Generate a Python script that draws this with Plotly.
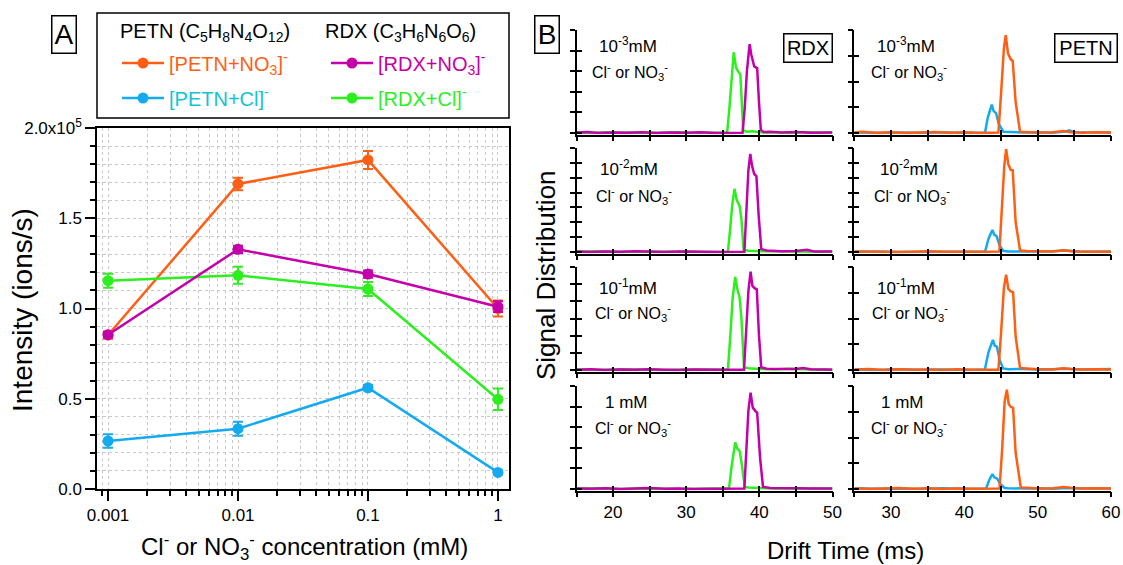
import plotly.graph_objects as go

W, H = 1123, 565
def fx(px): return px / W
def fy(py): return 1 - py / H

FONT = "Liberation Sans, Arial, Helvetica, sans-serif"
ORANGE = "#FF5F14"
MAGENTA = "#C400AA"
GREEN = "#2BF01E"
BLUE = "#14AAF0"
CYAN_TXT = "#12C3D3"

# ---------------- Panel A data ----------------
conc = [0.001, 0.01, 0.1, 1]
petn_no3 = [0.853e5, 1.69e5, 1.823e5, 1.00e5]
petn_no3_err = [0.02e5, 0.035e5, 0.05e5, 0.045e5]
rdx_no3 = [0.855e5, 1.328e5, 1.191e5, 1.01e5]
rdx_no3_err = [0.015e5, 0.02e5, 0.02e5, 0.03e5]
rdx_cl = [1.154e5, 1.184e5, 1.108e5, 0.497e5]
rdx_cl_err = [0.039e5, 0.047e5, 0.039e5, 0.06e5]
petn_cl = [0.266e5, 0.334e5, 0.561e5, 0.092e5]
petn_cl_err = [0.037e5, 0.039e5, 0.015e5, 0.01e5]

y_tickvals = [0, 0.5e5, 1.0e5, 1.5e5, 2.0e5]
y_ticktext = ["0.0", "0.5", "1.0", "1.5", "2.0x10<sup>5</sup>"]
x_tickvals = [0.001, 0.01, 0.1, 1]
x_ticktext = ["0.001", "0.01", "0.1", "1"]

# ---------------- Panel B data ----------------
row_labels = ["10<sup>-3</sup>mM", "10<sup>-2</sup>mM", "10<sup>-1</sup>mM", "1 mM"]
rdx_ticks_n = [5, 7, 6, 5]
petn_ticks_n = [4, 7, 4, 4]

rdx_cl_t = [
    [15, 17, 19, 21, 23, 25, 27, 29, 31, 33, 35, 35.6, 35.9, 36.2, 36.5, 36.8, 37.1, 37.4, 37.6, 37.8, 38.3, 39.0, 39.8, 40.5, 42, 44, 46, 48, 50],
    [15, 18, 21, 24, 27, 30, 33, 35.7, 36.0, 36.3, 36.6, 36.9, 37.3, 37.55, 37.85, 38.5, 40, 42, 45, 48, 50],
    [15, 18, 21, 24, 27, 30, 33, 35.7, 36.0, 36.35, 36.7, 37.0, 37.3, 37.55, 37.9, 38.5, 40, 42, 44, 46, 48, 50],
    [15, 18, 21, 24, 27, 30, 33, 35.85, 36.2, 36.5, 36.7, 37.0, 37.3, 37.6, 38.0, 38.5, 40, 42, 44, 46, 48, 50],
]
rdx_cl_s = [
    [0.03, 0.0, 0.04, 0.01, 0.03, 0.0, 0.02, 0.04, 0.0, 0.02, 0.01, 0.03, 1.2, 2.8, 3.92, 3.2, 2.98, 2.85, 1.2, 0.12, 0.06, 0.08, 0.05, 0.02, 0.04, 0.0, 0.05, 0.02, 0.03],
    [0.02, 0.05, 0.0, 0.04, 0.01, 0.03, 0.0, 0.02, 1.5, 3.2, 4.25, 3.5, 3.1, 2.2, 0.15, 0.08, 0.05, 0.03, 0.05, 0.02, 0.03],
    [0.03, 0.0, 0.04, 0.02, 0.0, 0.03, 0.01, 0.02, 1.8, 4.2, 5.42, 4.7, 4.23, 3.0, 0.15, 0.1, 0.06, 0.03, 0.08, 0.04, 0.02, 0.03],
    [0.02, 0.04, 0.0, 0.03, 0.01, 0.0, 0.03, 0.02, 1.08, 1.9, 2.26, 1.95, 1.85, 1.2, 0.1, 0.07, 0.05, 0.02, 0.04, 0.03, 0.0, 0.02],
]
rdx_no3_t = [
    [15, 16.5, 18, 20, 22, 24, 26, 28, 30, 32, 34, 36, 37.7, 38.0, 38.3, 38.67, 38.9, 39.3, 39.7, 39.95, 40.2, 40.6, 41.5, 43, 45, 47, 49, 50],
    [15, 17, 19, 21, 23, 25, 27, 29, 31, 33, 35, 37.95, 38.2, 38.5, 38.76, 39.0, 39.3, 39.6, 39.9, 40.26, 41, 43, 45, 46.5, 47.5, 49, 50],
    [15, 17, 19, 21, 23, 25, 27, 29, 31, 33, 35, 37.9, 38.2, 38.5, 38.8, 39.05, 39.35, 39.65, 39.95, 40.26, 41, 43, 45, 46, 47, 49, 50],
    [15, 17, 19, 21, 23, 25, 27, 29, 31, 33, 35, 37.95, 38.2, 38.5, 38.8, 39.1, 39.5, 39.7, 40.1, 40.5, 41.5, 43, 45, 47, 49, 50],
]
rdx_no3_s = [
    [0.02, 0.05, 0.0, 0.03, 0.01, 0.04, 0.0, 0.03, 0.01, 0.04, 0.0, 0.02, 0.01, 1.2, 3.0, 4.31, 3.8, 3.23, 3.15, 1.5, 0.15, 0.05, 0.06, 0.02, 0.05, 0.01, 0.04, 0.03],
    [0.03, 0.0, 0.04, 0.01, 0.05, 0.02, 0.0, 0.04, 0.01, 0.03, 0.0, 0.02, 2.5, 5.5, 6.6, 5.8, 5.25, 5.1, 2.5, 0.2, 0.1, 0.05, 0.06, 0.15, 0.04, 0.02, 0.03],
    [0.02, 0.04, 0.0, 0.03, 0.01, 0.04, 0.02, 0.0, 0.03, 0.01, 0.02, 0.01, 2.0, 4.6, 5.73, 4.9, 4.77, 4.7, 2.0, 0.15, 0.08, 0.05, 0.06, 0.12, 0.04, 0.03, 0.02],
    [0.03, 0.01, 0.04, 0.0, 0.02, 0.05, 0.01, 0.03, 0.0, 0.02, 0.01, 0.02, 1.5, 3.8, 4.68, 3.95, 3.77, 3.7, 1.5, 0.1, 0.05, 0.03, 0.04, 0.02, 0.03, 0.02],
]
petn_cl_t = [
    [25, 28, 31, 34, 37, 40, 42.83, 43.2, 43.74, 44.0, 44.33, 44.7, 45.33, 46, 48, 50, 52, 53.8, 54.3, 55, 57, 60],
    [25, 28, 31, 34, 37, 40, 42.83, 43.3, 43.83, 44.1, 44.4, 44.8, 45.3, 46, 48, 50, 52, 54, 56, 60],
    [25, 28, 31, 34, 37, 40, 42.8, 43.3, 43.9, 44.15, 44.45, 44.8, 45.3, 46, 48, 50, 52, 54, 56, 58, 60],
    [25, 28, 31, 34, 37, 40, 42.97, 43.4, 43.83, 44.1, 44.45, 44.9, 45.5, 46, 48, 50, 52, 54, 56, 58, 60],
]
petn_cl_s = [
    [0.03, 0.0, 0.02, 0.01, 0.03, 0.0, 0.02, 0.6, 1.1, 0.85, 0.77, 0.35, 0.05, 0.04, 0.02, 0.03, 0.01, 0.06, 0.1, 0.03, 0.02, 0.02],
    [0.02, 0.04, 0.0, 0.03, 0.01, 0.02, 0.03, 0.9, 1.48, 1.15, 1.07, 0.45, 0.08, 0.04, 0.02, 0.03, 0.05, 0.1, 0.02, 0.03],
    [0.02, 0.0, 0.03, 0.01, 0.02, 0.0, 0.02, 0.7, 1.17, 0.95, 0.9, 0.4, 0.06, 0.03, 0.04, 0.02, 0.03, 0.05, 0.02, 0.03, 0.04],
    [0.03, 0.01, 0.02, 0.0, 0.03, 0.01, 0.02, 0.35, 0.58, 0.45, 0.41, 0.2, 0.04, 0.03, 0.02, 0.03, 0.01, 0.04, 0.02, 0.03, 0.02],
]
petn_no3_t = [
    [25, 26, 28, 30, 32, 34, 36, 38, 40, 42, 44.65, 45.0, 45.4, 45.65, 45.95, 46.33, 46.6, 47.0, 47.6, 48.5, 50, 52, 53.5, 54.5, 56, 58, 60],
    [25, 27, 29, 31, 33, 35, 37, 39, 41, 43, 44.78, 45.1, 45.45, 45.7, 46.0, 46.33, 46.6, 47.0, 47.6, 48.5, 50, 52, 53.5, 54.5, 56, 58, 60],
    [25, 27, 29, 31, 33, 35, 37, 39, 41, 43, 44.65, 45.0, 45.4, 45.7, 46.0, 46.33, 46.65, 47.0, 47.6, 48.5, 50, 52, 53.5, 54.5, 56, 58, 60],
    [25, 27, 29, 31, 33, 35, 37, 39, 41, 43, 44.8, 45.15, 45.5, 45.8, 46.05, 46.33, 46.65, 47.0, 47.7, 48.5, 50, 52, 53.5, 54.5, 56, 58, 60],
]
petn_no3_s = [
    [0.02, 0.05, 0.01, 0.03, 0.0, 0.02, 0.04, 0.01, 0.03, 0.0, 0.02, 1.5, 3.3, 3.8, 3.1, 2.86, 2.8, 1.2, 0.05, 0.04, 0.02, 0.03, 0.08, 0.03, 0.01, 0.03, 0.02],
    [0.03, 0.01, 0.04, 0.0, 0.02, 0.05, 0.01, 0.03, 0.0, 0.02, 0.03, 2.5, 5.8, 6.93, 5.9, 5.52, 5.5, 2.0, 0.1, 0.06, 0.03, 0.04, 0.12, 0.05, 0.02, 0.03, 0.02],
    [0.02, 0.04, 0.0, 0.03, 0.01, 0.02, 0.0, 0.03, 0.01, 0.02, 0.01, 1.4, 3.2, 3.7, 3.15, 3.05, 3.02, 1.3, 0.08, 0.06, 0.03, 0.02, 0.07, 0.04, 0.02, 0.03, 0.02],
    [0.03, 0.0, 0.02, 0.04, 0.01, 0.03, 0.0, 0.02, 0.01, 0.03, 0.02, 1.5, 3.4, 3.86, 3.3, 3.19, 3.15, 1.4, 0.06, 0.05, 0.02, 0.03, 0.08, 0.05, 0.02, 0.03, 0.02],
]
rdx_xrange = [15, 50]
petn_xrange = [25, 60]
rdx_xticks = [15, 20, 25, 30, 35, 40, 45, 50]
rdx_xlabels = ["", "20", "", "30", "", "40", "", "50"]
petn_xticks = [25, 30, 35, 40, 45, 50, 55, 60]
petn_xlabels = ["", "30", "", "40", "", "50", "", "60"]

# ---------------- Figure ----------------
fig = go.Figure()
layout = dict(
    template="none",
    width=W, height=H, margin=dict(l=0, r=0, t=0, b=0, pad=0, autoexpand=False),
    paper_bgcolor="white", plot_bgcolor="white",
    font=dict(family=FONT, color="black", size=16),
    showlegend=True,
)

def a_trace(y, err, color, name, legend):
    return go.Scatter(
        x=conc, y=y, mode="lines+markers", name=name, legend=legend,
        line=dict(color=color, width=2.5),
        marker=dict(color=color, size=11),
        error_y=dict(type="data", array=err, visible=True, color=color, thickness=2, width=5),
        xaxis="x", yaxis="y",
    )

fig.add_trace(a_trace(petn_cl, petn_cl_err, BLUE,
    f'<span style="color:{CYAN_TXT}">[PETN+Cl]<sup>-</sup></span>', "legend2"))
fig.add_trace(a_trace(petn_no3, petn_no3_err, ORANGE,
    f'<span style="color:{ORANGE}">[PETN+NO<sub>3</sub>]<sup>-</sup></span>', "legend"))
fig.add_trace(a_trace(rdx_cl, rdx_cl_err, GREEN,
    f'<span style="color:{GREEN}">[RDX+Cl]<sup>-</sup></span>', "legend4"))
fig.add_trace(a_trace(rdx_no3, rdx_no3_err, MAGENTA,
    f'<span style="color:{MAGENTA}">[RDX+NO<sub>3</sub>]<sup>-</sup></span>', "legend3"))

minor_x = [d * 10 ** e for e in range(-4, 1) for d in range(2, 10)] + [0.0008, 0.0009]
grid = dict(showgrid=True, gridcolor="#c8c8c8", griddash="dot", gridwidth=1)
layout["xaxis"] = dict(
    type="log", domain=[fx(97), fx(509)], range=[-3.085, 0.085], anchor="y",
    automargin=False,
    showline=True, linecolor="black", linewidth=1.5, mirror=True,
    ticks="outside", ticklen=10, tickwidth=1.5, tickcolor="black",
    tickmode="array", tickvals=x_tickvals, ticktext=x_ticktext,
    tickfont=dict(size=17), zeroline=False, **grid,
    minor=dict(tickmode="array", tickvals=minor_x, ticks="outside", ticklen=5,
               tickwidth=1.5, tickcolor="black", **grid),
)
layout["yaxis"] = dict(
    domain=[fy(489), fy(128)], range=[0, 2e5], anchor="x",
    automargin=False,
    showline=True, linecolor="black", linewidth=1.5, mirror=True,
    ticks="outside", ticklen=10, tickwidth=1.5, tickcolor="black",
    tickmode="array", tickvals=y_tickvals, ticktext=y_ticktext,
    tickfont=dict(size=17), zeroline=False, **grid,
    minor=dict(dtick=1e4, tick0=0, ticks="outside", ticklen=5, tickwidth=1.5,
               tickcolor="black", **grid),
)

leg_common = dict(bgcolor="rgba(0,0,0,0)", borderwidth=0, font=dict(size=20, family=FONT),
                  xanchor="left", yanchor="middle", itemclick=False, itemdoubleclick=False,
                  itemwidth=42)
layout["legend"] = dict(x=fx(117), y=fy(63), **leg_common)
layout["legend2"] = dict(x=fx(117), y=fy(98), **leg_common)
layout["legend3"] = dict(x=fx(326), y=fy(63), **leg_common)
layout["legend4"] = dict(x=fx(326), y=fy(98), **leg_common)

# Panel B
base_px = [133, 252, 370, 489]
top_px = [30, 148, 267, 386]
col_dom = [[fx(576.5), fx(832.5)], [fx(854.3), fx(1111)]]
pad_px = 1.5

def add_b(idx, row, col, traces, n_ticks, xrange, xticks, xlabels):
    ax = idx
    ov = idx + 8
    h = base_px[row] - top_px[row]
    pad = pad_px * n_ticks / h
    ydom = [fy(base_px[row] + pad_px), fy(top_px[row])]
    bottom = row == 3
    xcommon = dict(range=xrange, tickmode="array", tickvals=xticks, automargin=False,
                   ticklen=5, tickwidth=1.5, tickcolor="black", showgrid=False, zeroline=False)
    ycommon = dict(range=[-pad, n_ticks], tick0=0, dtick=1, ticklen=5, tickwidth=1.5, automargin=False,
                   tickcolor="black", showgrid=False, zeroline=False, showticklabels=False)
    layout[f"xaxis{ax}"] = dict(domain=col_dom[col], anchor=f"y{ax}", showline=True,
                                linecolor="black", linewidth=1.5, ticks="outside",
                                ticktext=xlabels, showticklabels=bottom,
                                tickfont=dict(size=17), **xcommon)
    layout[f"yaxis{ax}"] = dict(domain=ydom, anchor=f"x{ax}", showline=True,
                                linecolor="black", linewidth=1.5, ticks="outside", **ycommon)
    layout[f"xaxis{ov}"] = dict(overlaying=f"x{ax}", anchor=f"y{ov}", showline=False,
                                ticks="inside", showticklabels=False, **xcommon)
    layout[f"yaxis{ov}"] = dict(overlaying=f"y{ax}", anchor=f"x{ov}", showline=False,
                                ticks="inside", **ycommon)
    for t, s, color in traces:
        fig.add_trace(go.Scatter(x=t, y=s, mode="lines", line=dict(color=color, width=2.5),
                                 showlegend=False, xaxis=f"x{ax}", yaxis=f"y{ax}"))
    fig.add_trace(go.Scatter(x=[None], y=[None], mode="lines", showlegend=False,
                             hoverinfo="skip", xaxis=f"x{ov}", yaxis=f"y{ov}"))

idx = 2
for r in range(4):
    add_b(idx, r, 0, [(rdx_cl_t[r], rdx_cl_s[r], GREEN), (rdx_no3_t[r], rdx_no3_s[r], MAGENTA)],
          rdx_ticks_n[r], rdx_xrange, rdx_xticks, rdx_xlabels)
    idx += 1
    add_b(idx, r, 1, [(petn_cl_t[r], petn_cl_s[r], BLUE), (petn_no3_t[r], petn_no3_s[r], ORANGE)],
          petn_ticks_n[r], petn_xrange, petn_xticks, petn_xlabels)
    idx += 1

# ---------------- Annotations & shapes ----------------
ann = []
def text(px, py, s, size=16, xanchor="center", yanchor="middle", angle=0, **kw):
    ann.append(dict(x=fx(px), y=fy(py), xref="paper", yref="paper", text=s, showarrow=False,
                    xanchor=xanchor, yanchor=yanchor, textangle=angle,
                    font=dict(size=size, family=FONT, color="black"), **kw))

box = dict(bordercolor="black", borderwidth=1.5)
text(63.5, 34, "A", size=28, width=23, height=36, borderpad=0, **box)
text(546.5, 34, "B", size=28, width=23, height=36, borderpad=0, **box)
text(807.5, 47.5, "RDX", size=20, width=47, height=27, borderpad=0, **box)
text(1085.5, 47.5, "PETN", size=20, width=61, height=27, borderpad=0, **box)

text(205, 33, "PETN (C<sub>5</sub>H<sub>8</sub>N<sub>4</sub>O<sub>12</sub>)", size=20)
text(400, 33, "RDX (C<sub>3</sub>H<sub>6</sub>N<sub>6</sub>O<sub>6</sub>)", size=20)

text(22, 310, "Intensity (ions/s)", size=28, angle=-90)
text(304, 547, "Cl<sup>-</sup> or NO<sub>3</sub><sup>-</sup> concentration (mM)", size=24)
text(546, 275, "Signal Distribution", size=26, angle=-90)
text(845, 550, "Drift Time (ms)", size=24)

lab_y = [45, 168, 287, 402]
cl_y = [72, 196, 313, 428]
lab_x = [[597, 875], [598, 878], [597, 875], [603, 879]]
cl_x = [[590, 869], [594, 872], [593, 870], [593, 869]]
for r in range(4):
    for c in range(2):
        text(lab_x[r][c], lab_y[r], row_labels[r], size=17, xanchor="left")
        text(cl_x[r][c], cl_y[r], "Cl<sup>-</sup> or NO<sub>3</sub><sup>-</sup>", size=16, xanchor="left")

layout["annotations"] = ann
layout["shapes"] = [dict(type="rect", xref="paper", yref="paper",
                         x0=fx(97), x1=fx(509), y0=fy(118), y1=fy(13),
                         line=dict(color="black", width=1.5))]

fig.update_layout(**layout)
fig.write_html(
    "out.html",
    config={"displayModeBar": False},
    post_script="document.body.style.margin='0';document.body.style.overflow='hidden';",
)
